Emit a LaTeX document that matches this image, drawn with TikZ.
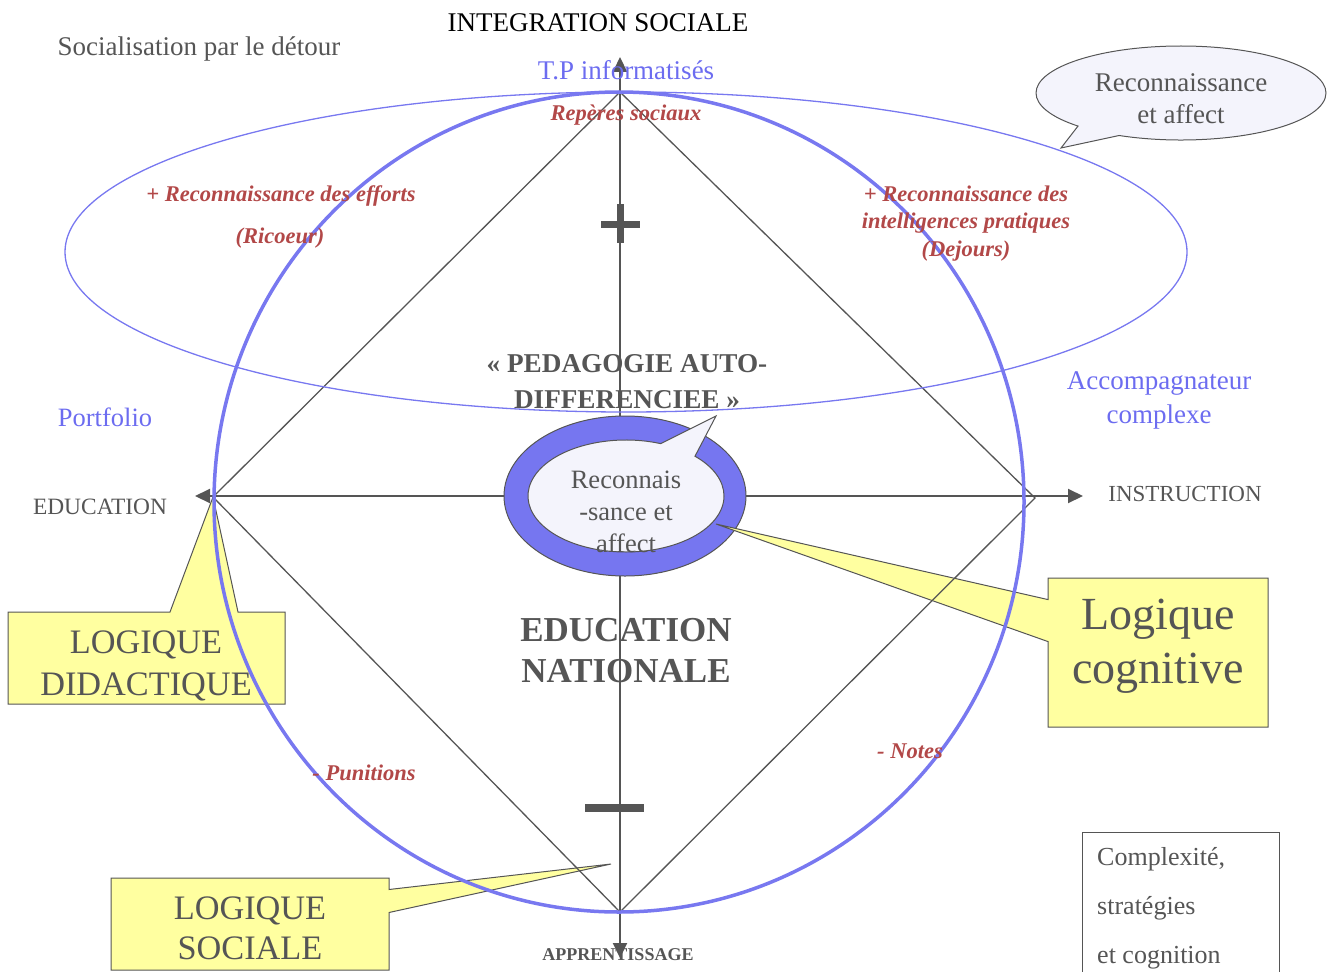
\documentclass[tikz,border=0pt]{standalone}
\usepackage{fontspec}
\setmainfont{Liberation Serif}
\usetikzlibrary{positioning, arrows.meta, shapes.geometric, shapes.callouts}

\definecolor{axisgray}{RGB}{85,85,85}
\definecolor{circblue}{RGB}{120,120,240}
\definecolor{ringblue}{RGB}{118,118,240}
\definecolor{txtblue}{RGB}{108,108,240}
\definecolor{txtred}{RGB}{178,72,72}
\definecolor{notefill}{RGB}{255,255,160}
\definecolor{bubblefill}{RGB}{244,244,252}

\newcommand{\fsz}[2]{\fontsize{#1}{#2}\selectfont}

\begin{document}
\begin{tikzpicture}[x=1pt, y=-1pt]
		% Styles
		\tikzstyle{axisline} = [draw=axisgray, line width=2pt,
		{Triangle[length=15pt, width=14pt]}-{Triangle[length=15pt, width=14pt]}]
		\tikzstyle{diamondline} = [draw=axisgray, line width=1.3pt]
		\tikzstyle{ringshape} = [ellipse, draw=axisgray, fill=ringblue, line width=1pt]
		\tikzstyle{bubble} = [ellipse callout, draw=axisgray, fill=bubblefill, line width=1pt]
		\tikzstyle{yellownote} = [rectangle callout, draw=axisgray, fill=notefill, line width=1pt]
		\tikzstyle{notepoly} = [draw=axisgray, fill=notefill, line width=1pt]
		\tikzstyle{greytext} = [text=axisgray, align=center, inner sep=0pt]
		\tikzstyle{bluetext} = [text=txtblue, align=center, inner sep=0pt, font=\fsz{27}{34}]
		\tikzstyle{redtext} = [text=txtred, align=center, inner sep=0pt,
		font=\fsz{22.5}{27.5}\bfseries\itshape]
		
		\useasboundingbox (0,0) rectangle (1329,971);
		
		% Axis ends and diamond corners
		\coordinate (top) at (620,57);
		\coordinate (bottom) at (620,958);
		\coordinate (west) at (195,496);
		\coordinate (east) at (1083,496);
		\coordinate (apex) at (620,92);
		\coordinate (foot) at (620,912);
		\coordinate (lvert) at (213,497);
		\coordinate (rvert) at (1035,498);
		
		% Axes
		\node [greytext, font=\fsz{18}{20}\bfseries] (appr) at (618,955) {APPRENTISSAGE};
		\path [axisline] (bottom) -- (top);
		\path [axisline] (west) -- (east);
		
		% Central ring and bubbles
		\node [ringshape, minimum width=242pt, minimum height=160pt] (ring) at (625,496) {};
		\node [bubble, minimum width=196pt, minimum height=112pt, inner sep=0pt,
		callout absolute pointer={(716,416)}, callout pointer arc=24] (inbubble) at (626,496) {};
		\node [bubble, minimum width=290pt, minimum height=94pt, inner sep=0pt,
		callout absolute pointer={(1061,148)}, callout pointer arc=20] (topbubble) at (1181,93) {};
		
		% Yellow notes
		\node [yellownote, minimum width=220pt, minimum height=149pt,
		callout absolute pointer={(716,524)}, callout pointer width=42pt] (cogn) at (1158,652.5) {};
		\node [yellownote, minimum width=278pt, minimum height=92pt,
		callout absolute pointer={(611,864)}, callout pointer width=23pt] (soc) at (250,924) {};
		\filldraw [notepoly] (8,612) -- (170,612) -- (lvert) -- (238,612) -- (285,612)
		-- (285,704) -- (8,704) -- cycle;
		
		% Diamond
		\path [diamondline] (apex) -- (rvert) -- (foot) -- (lvert) -- cycle;
		
		% Circle and ellipse
		\draw [circblue, line width=3.5pt] (619,502) ellipse [x radius=405, y radius=410];
		\draw [circblue, line width=1.3pt] (626,252) ellipse [x radius=561, y radius=160];
		
		% Plus and minus
		\fill [axisgray] (601,220.5) rectangle (640,227.5);
		\fill [axisgray] (616.5,204) rectangle (623.5,243);
		\fill [axisgray] (585,804) rectangle (644,812);
		
		% Texts
		\node [font=\fsz{27}{30}, inner sep=0pt] (integ) at (598,23) {INTEGRATION SOCIALE};
		\node [greytext, font=\fsz{27}{30}] (detour) at (199,49) {Socialisation par le détour};
		\node [bluetext] (tp) at (626,70) {T.P informatisés};
		\node [redtext] (reperes) at (626,115) {Repères sociaux};
		\node [redtext] (efforts) at (281,196) {+ Reconnaissance des efforts};
		\node [redtext] (ricoeur) at (280,238) {(Ricoeur)};
		\node [redtext] (intel) at (966,223.5) {+ Reconnaissance des\\intelligences pratiques\\(Dejours)};
		\node [greytext, font=\fsz{27}{32}] (toptext) at (1181,99) {Reconnaissance\\et affect};
		\node [greytext, font=\fsz{27.2}{36}\bfseries] (pedago) at (627,382) {«~PEDAGOGIE AUTO-\\DIFFERENCIEE~»};
		\node [bluetext] (accomp) at (1159,400) {Accompagnateur\\complexe};
		\node [bluetext, font=\fsz{26.5}{34}] (portf) at (105,417) {Portfolio};
		\node [greytext, font=\fsz{26.5}{32}] (recon) at (626,512) {Reconnais\\-sance et\\affect};
		\node [greytext, font=\fsz{23.4}{26}] (educ) at (100,507) {EDUCATION};
		\node [greytext, font=\fsz{23}{26}] (instr) at (1185,494) {INSTRUCTION};
		\node [greytext, font=\fsz{35}{41}\bfseries] (ednat) at (626,651) {EDUCATION\\NATIONALE};
		\node [greytext, font=\fsz{34.3}{42}] (didact) at (146,666) {LOGIQUE\\DIDACTIQUE};
		\node [greytext, font=\fsz{46}{54}] (cogntext) at (1158,646) {Logique\\cognitive};
		\node [greytext, font=\fsz{34.3}{40}] (soctext) at (250,928) {LOGIQUE\\SOCIALE};
		\node [redtext] (punit) at (364,773) {- Punitions};
		\node [redtext] (notes) at (910,751) {- Notes};
		
		% Frame bottom right
		\draw [axisgray, line width=1pt] (1082,975) -- (1082,832) -- (1279,832) -- (1279,975);
		\node [greytext, font=\fsz{26}{49}, align=left, anchor=west] (complex) at (1097,908)
		{Complexité,\\stratégies\\et cognition};
	\end{tikzpicture}
\end{document}
